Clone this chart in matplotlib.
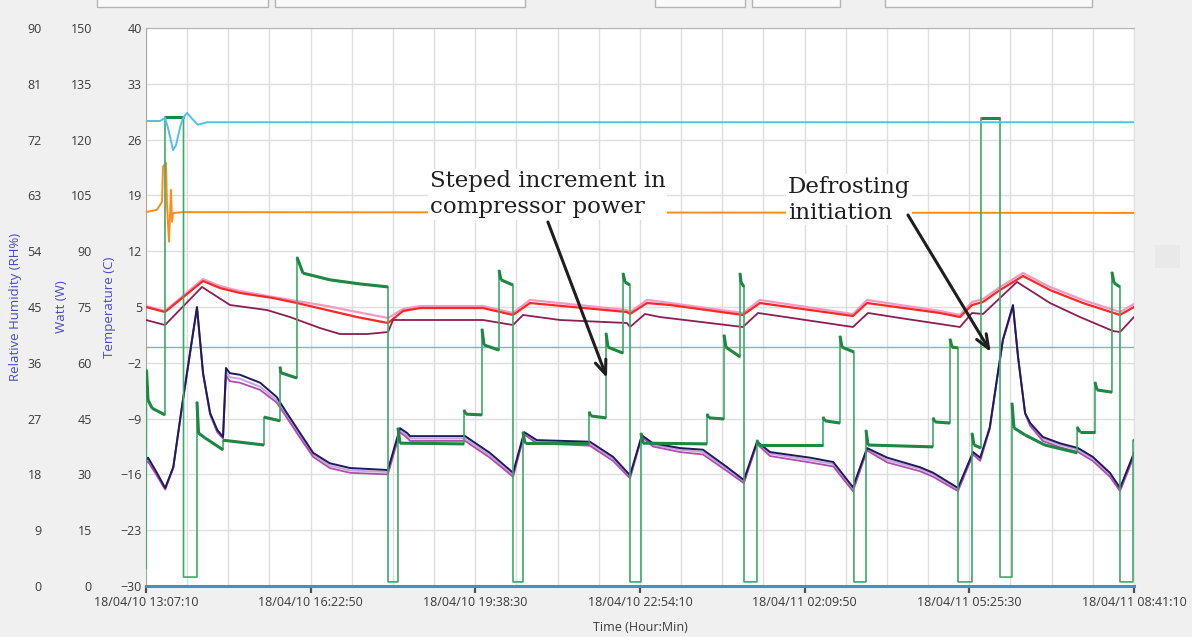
import matplotlib
matplotlib.use("Agg")
import matplotlib.pyplot as plt
import matplotlib.dates as mdates
from matplotlib.ticker import FixedLocator
from matplotlib.collections import LineCollection
from matplotlib.patches import Rectangle
from datetime import datetime, timedelta

plt.rcParams['font.family'] = ['Open Sans', 'DejaVu Sans']

# ---------------- time axis ----------------
START = datetime(2018, 4, 10, 13, 7, 10)
END = datetime(2018, 4, 11, 8, 41, 10)
MAJOR_STEP_S = 11740      # 3:15:40 between labelled ticks
MINOR_STEP_S = 2935       # grid every quarter of that

# ---------------- axis ticks ----------------
temp_ticks = [-30, -23, -16, -9, -2, 5, 12, 19, 26, 33, 40]
watt_ticks = [0, 15, 30, 45, 60, 75, 90, 105, 120, 135, 150]
rh_ticks = [0, 9, 18, 27, 36, 45, 54, 63, 72, 81, 90]

# ---------------- series (time in hours from start) ----------------
# compressor / heater power (W)
pw_t = [0.00, 0.01, 0.04, 0.12, 0.376, 0.376, 0.743, 0.743, 1.01, 1.01,
        1.04, 1.17, 1.525, 1.525, 2.337, 2.337, 2.654, 2.654, 2.674, 2.99,
        2.99, 3.109, 3.644, 4.238, 4.793, 4.793, 4.99, 4.99, 5.03, 6.298,
        6.298, 6.337, 6.654, 6.654, 6.694, 6.991, 6.991, 7.03, 7.268, 7.268,
        7.466, 7.466, 7.506, 8.773, 8.773, 8.813, 9.11, 9.11, 9.15, 9.447,
        9.447, 9.486, 9.585, 9.585, 9.803, 9.803, 9.843, 11.11, 11.11, 11.15,
        11.447, 11.447, 11.486, 11.764, 11.764, 11.783, 11.843, 11.843, 12.10, 12.10,
        12.14, 13.407, 13.407, 13.447, 13.744, 13.744, 13.784, 14.02, 14.02, 14.259,
        14.259, 14.299, 15.586, 15.586, 15.626, 15.923, 15.923, 15.962, 16.081, 16.081,
        16.358, 16.358, 16.398, 16.536, 16.536, 16.913, 16.913, 17.15, 17.15, 17.19,
        17.41, 17.80, 18.44, 18.44, 18.497, 18.794, 18.794, 18.834, 19.13, 19.13,
        19.17, 19.289, 19.289, 19.547, 19.547, 19.567]
pw_w = [4.8, 58.1, 50.0, 47.8, 46.0, 126.1, 126.1, 2.4, 2.4, 49.5,
        41.1, 39.8, 36.6, 39.2, 37.9, 45.4, 44.4, 58.9, 57.3, 55.9,
        88.4, 84.1, 82.3, 81.2, 80.4, 1.1, 1.1, 42.5, 38.4, 38.2,
        47.3, 46.2, 46.0, 69.1, 64.8, 63.4, 84.9, 82.3, 80.9, 1.1,
        1.1, 41.4, 38.4, 38.4, 46.8, 45.7, 45.2, 68.0, 64.2, 62.6,
        84.1, 81.7, 80.9, 1.1, 1.1, 41.1, 38.4, 38.2, 46.2, 45.2,
        44.9, 67.5, 64.2, 61.6, 84.1, 81.7, 80.4, 1.1, 1.1, 39.2,
        37.9, 37.9, 45.4, 44.4, 43.8, 67.2, 64.2, 62.9, 1.1, 1.1,
        41.9, 37.9, 37.4, 45.2, 44.1, 43.8, 66.4, 64.2, 64.0, 1.1,
        1.1, 41.1, 37.9, 37.1, 125.8, 125.8, 2.4, 2.4, 49.2, 42.5,
        40.6, 37.9, 35.8, 42.7, 41.4, 41.4, 54.8, 52.7, 52.1, 84.4,
        81.5, 80.4, 1.1, 1.1, 39.2, 39.2]

# cabinet air temperatures (C)
cab_t = [0.0, 0.376, 1.129, 1.465, 1.862, 2.515, 2.99, 3.584, 4.179, 4.793,
         5.09, 5.426, 6.674, 7.268, 7.605, 9.526, 9.585, 9.922, 10.38, 11.822,
         12.159, 14.001, 14.279, 15.724, 16.12, 16.358, 16.576, 16.913, 17.368, 17.903,
         18.556, 19.289, 19.567]
cab_red = [5.00, 4.37, 8.26, 7.38, 6.76, 6.13, 5.50, 4.62, 3.74, 2.99,
           4.50, 4.87, 4.87, 4.00, 5.50, 4.37, 4.12, 5.50, 5.25, 4.00,
           5.50, 3.87, 5.50, 4.25, 3.74, 5.25, 5.63, 7.13, 8.89, 7.13,
           5.50, 4.00, 5.00]
cab_pink = [5.12, 4.50, 8.51, 7.63, 7.00, 6.26, 5.75, 5.12, 4.37, 3.62,
            4.75, 5.12, 5.12, 4.25, 5.88, 4.62, 4.37, 5.88, 5.50, 4.25,
            5.88, 4.12, 5.88, 4.50, 4.00, 5.63, 6.00, 7.51, 9.26, 7.51,
            5.88, 4.37, 5.38]

mar_t = [0.0, 0.376, 1.109, 1.664, 2.396, 2.852, 3.446, 3.842, 4.377, 4.793,
         4.892, 5.426, 6.674, 7.268, 7.466, 8.199, 9.526, 9.585, 9.882, 10.179,
         11.822, 12.12, 14.001, 14.298, 14.932, 16.12, 16.358, 16.576, 17.249, 17.903,
         18.497, 19.15, 19.289, 19.567]
mar_v = [3.37, 2.74, 7.51, 5.25, 4.62, 3.74, 2.36, 1.61, 1.61, 1.86,
         3.37, 3.37, 3.37, 2.74, 4.00, 3.37, 2.99, 2.49, 4.12, 3.74,
         2.49, 4.25, 2.49, 4.25, 3.62, 2.49, 4.25, 4.12, 8.14, 5.50,
         3.74, 1.99, 1.86, 3.74]

# evaporator temperatures (C)
evap_t = [0.00, 0.04, 0.18, 0.38, 0.54, 0.73, 0.93, 1.01, 1.13, 1.27,
          1.41, 1.525, 1.584, 1.66, 1.86, 2.26, 2.59, 2.79, 3.05, 3.31,
          3.64, 4.04, 4.79, 5.03, 5.17, 5.23, 6.32, 6.81, 7.27, 7.49,
          7.74, 8.79, 9.25, 9.585, 9.82, 10.04, 10.58, 11.03, 11.51, 11.84,
          12.10, 12.36, 13.15, 13.61, 14.00, 14.28, 14.68, 15.33, 15.59, 16.08,
          16.38, 16.52, 16.71, 16.87, 16.97, 17.17, 17.27, 17.41, 17.51, 17.76,
          18.10, 18.46, 18.75, 19.09, 19.29, 19.567]
evap_navy = [-14.2, -13.9, -15.4, -17.7, -15.1, -6.7, 1.7, 5.0, -3.3, -8.3,
             -10.4, -11.3, -2.65, -3.3, -3.5, -4.5, -6.3, -8.3, -10.8, -13.3,
             -14.6, -15.2, -15.45, -10.2, -10.8, -11.2, -11.2, -13.3, -15.8, -10.7,
             -11.7, -11.9, -13.8, -16.1, -11.1, -12.1, -12.7, -12.9, -15.1, -16.7,
             -11.9, -13.2, -13.9, -14.45, -17.6, -12.7, -13.9, -15.1, -15.8, -17.7,
             -13.2, -13.9, -10.1, -3.3, 0.9, 5.25, -1.3, -8.3, -9.55, -11.3,
             -12.1, -12.7, -13.8, -15.8, -17.7, -13.3]
evap_violet = [-14.6, -14.4, -15.8, -17.9, -15.2, -6.8, 1.6, 4.8, -3.4, -8.5,
               -10.7, -11.5, -3.6, -4.3, -4.5, -5.4, -7.0, -8.9, -11.4, -13.8,
               -15.2, -15.8, -16.0, -10.7, -11.4, -11.8, -11.8, -13.9, -16.3, -11.0,
               -12.1, -12.4, -14.3, -16.5, -11.3, -12.5, -13.2, -13.5, -15.6, -17.1,
               -12.2, -13.7, -14.5, -15.0, -18.1, -13.0, -14.5, -15.6, -16.3, -18.1,
               -13.5, -14.3, -10.3, -3.4, 0.8, 5.0, -1.2, -8.4, -9.9, -11.8,
               -12.6, -13.2, -14.3, -16.3, -18.1, -13.7]
evap_lilac = [-14.4, -14.2, -15.6, -17.8, -15.1, -6.7, 1.7, 4.9, -3.3, -8.4,
              -10.5, -11.4, -3.1, -3.8, -4.0, -5.0, -6.7, -8.6, -11.1, -13.5,
              -14.9, -15.5, -15.7, -10.4, -11.1, -11.5, -11.5, -13.6, -16.1, -10.8,
              -11.9, -12.2, -14.0, -16.3, -11.2, -12.3, -12.9, -13.2, -15.3, -16.9,
              -12.0, -13.4, -14.2, -14.7, -17.8, -12.8, -14.2, -15.3, -16.0, -17.9,
              -13.3, -14.1, -10.2, -3.3, 0.9, 5.1, -1.2, -8.3, -9.7, -11.5,
              -12.3, -12.9, -14.0, -16.0, -17.9, -13.5]

# relative humidity (%)
rh_t = [0.00, 0.277, 0.376, 0.435, 0.515, 0.535, 0.594, 0.673, 0.733, 0.812,
        0.931, 1.03, 1.21, 19.567]
rh_v = [75.0, 75.0, 75.5, 73.9, 71.1, 70.3, 71.1, 73.9, 75.5, 76.3,
        75.2, 74.4, 74.8, 74.8]

# ambient temperature (C)
amb_t = [0.00, 0.218, 0.317, 0.337, 0.396, 0.416, 0.455, 0.495, 0.515, 0.535,
         0.733, 19.567]
amb_v = [16.9, 17.2, 18.2, 22.6, 23.1, 17.8, 13.2, 19.7, 15.7, 16.8,
         16.9, 16.8]

# set point line (C)
ref_t = [0.0, 19.567]
ref_v = [0.0, 0.0]


def tnum(hours):
    return mdates.date2num([START + timedelta(hours=h) for h in hours])


W, H = 1192, 637
fig = plt.figure(figsize=(W / 100, H / 100), dpi=100, facecolor='#F0F0F0')

# window-chrome remnants at the top / right
for x0, x1 in [(97, 268), (275, 525), (655, 745), (752, 840), (885, 1092)]:
    fig.add_artist(Rectangle((x0 / W, 1 - 7 / H), (x1 - x0) / W, 12 / H,
                             transform=fig.transFigure, facecolor='#FAFAFA',
                             edgecolor='#B4B4B4', lw=1.0))
fig.add_artist(Rectangle((1155 / W, 1 - 268 / H), 25 / W, 23 / H,
                         transform=fig.transFigure, facecolor='#E9E9E9',
                         edgecolor='none'))

ax = fig.add_axes([146 / W, 1 - 586 / H, 988 / W, 558 / H])
ax.set_facecolor('white')
ax_w = ax.twinx()
ax_rh = ax.twinx()

# ---- x axis ----
t0 = mdates.date2num(START)
t1 = mdates.date2num(END)
n_major = int(round((END - START).total_seconds() / MAJOR_STEP_S))
n_minor = n_major * 4
major = mdates.date2num([START + timedelta(seconds=MAJOR_STEP_S * k) for k in range(n_major + 1)])
minor = mdates.date2num([START + timedelta(seconds=MINOR_STEP_S * k) for k in range(n_minor + 1)])
ax.set_xlim(t0, t1)
ax.xaxis.set_major_locator(FixedLocator(major))
ax.xaxis.set_minor_locator(FixedLocator(minor))
ax.xaxis.set_major_formatter(mdates.DateFormatter('%y/%m/%d %H:%M:%S'))
ax.tick_params(axis='x', which='major', length=5, width=1.6, color='#505050',
               labelsize=9, labelcolor='#3A3A3A', pad=2.5)
ax.tick_params(axis='x', which='minor', length=0)
ax.set_xlabel('Time (Hour:Min)', fontsize=9, color='#3A3A3A')
ax.xaxis.set_label_coords(0.5, -0.062)

# ---- y axes ----
ax.set_ylim(-30, 40)
ax.set_yticks(temp_ticks)
ax_w.set_ylim(0, 150)
ax_w.set_yticks(watt_ticks)
ax_rh.set_ylim(0, 90)
ax_rh.set_yticks(rh_ticks)

lab_col = '#4A4ABA'
ax.tick_params(axis='y', length=0, pad=3, labelsize=9, labelcolor='#3A3A3A')
ax.set_ylabel('Temperature (C)', fontsize=9.5, color=lab_col)
ax.yaxis.set_label_coords(-0.030, 0.5)
for a, off, lab, lx in ((ax_w, 36, 'Watt (W)', -0.079), (ax_rh, 72, 'Relative Humidity (RH%)', -0.125)):
    a.yaxis.tick_left()
    a.yaxis.set_label_position('left')
    a.spines['left'].set_position(('outward', off))
    for s in a.spines.values():
        s.set_visible(False)
    a.tick_params(axis='y', length=0, pad=3, labelsize=9, labelcolor='#3A3A3A')
    a.set_ylabel(lab, fontsize=9.5, color=lab_col)
    a.yaxis.set_label_coords(lx, 0.5)

ax.spines['left'].set_color('#A8A8A8')
ax.spines['top'].set_color('#B4B4B4')
ax.spines['right'].set_color('#E2E2E2')
ax.spines['bottom'].set_visible(False)

ax.set_axisbelow(True)
ax.grid(True, axis='y', color='#DEDEDE', lw=1.0)
ax.grid(True, axis='x', which='both', color='#DEDEDE', lw=1.0)

# ---- temperature series ----
ax.plot(tnum(ref_t), ref_v, color='#8EA6E6', lw=1.0, zorder=2)
ax.plot(tnum(amb_t), amb_v, color='#FF8C1A', lw=1.4, zorder=3)
ax.plot(tnum(cab_t), cab_pink, color='#F39AC4', lw=1.6, zorder=3)
ax.plot(tnum(cab_t), cab_red, color='#FF2626', lw=1.6, zorder=4)
ax.plot(tnum(mar_t), mar_v, color='#8C1E52', lw=1.3, zorder=4)
ax.plot(tnum(evap_t), evap_lilac, color='#C8A2DA', lw=1.4, zorder=3)
ax.plot(tnum(evap_t), evap_violet, color='#B04CB0', lw=1.3, zorder=3)
ax.plot(tnum(evap_t), evap_navy, color='#1C1C5C', lw=1.4, zorder=4)

# ---- power series ----
ptn = tnum(pw_t)
ax_w.plot(ptn, pw_w, color='#3DAA68', lw=1.2, zorder=3)
segs = [[(ptn[i], pw_w[i]), (ptn[i + 1], pw_w[i + 1])]
        for i in range(len(pw_t) - 1)
        if ptn[i + 1] > ptn[i] and pw_w[i] > 20 and pw_w[i + 1] > 20]
ax_w.add_collection(LineCollection(segs, colors='#1E8744', linewidths=2.2,
                                   capstyle='butt', zorder=4))

# ---- RH series + zero base line ----
ax_rh.plot(tnum(rh_t), rh_v, color='#52C0EE', lw=1.4, zorder=3)
ax_rh.plot(tnum(ref_t), [0, 0], color='#3D93C8', lw=2.2, zorder=5, clip_on=False)

# ---- annotations ----
def tp(h, v):
    return (mdates.date2num(START + timedelta(hours=h)), v)

txt_kw = dict(transform=ax.transData, fontsize=16.5, family='DejaVu Serif',
              color='#1E1E1E', va='top', ha='left', linespacing=1.25, zorder=10,
              bbox=dict(facecolor='white', edgecolor='none', pad=1.0))
ax_rh.text(*tp(5.62, 22.2), 'Steped increment in\ncompressor power', **txt_kw)
ax_rh.text(*tp(12.71, 21.45), 'Defrosting\ninitiation', **txt_kw)

arr = dict(arrowstyle='->,head_length=1.0,head_width=0.4', color='#1E1E1E',
           lw=2.2, shrinkA=0, shrinkB=0)
ax_rh.annotate('', xy=tp(9.13, -3.91), xycoords=ax.transData,
               xytext=tp(7.96, 15.66), textcoords=ax.transData,
               arrowprops=arr, zorder=11)
ax_rh.annotate('', xy=tp(16.73, -0.65), xycoords=ax.transData,
               xytext=tp(15.09, 16.54), textcoords=ax.transData,
               arrowprops=arr, zorder=11)

fig.savefig('out.png', dpi=100, facecolor=fig.get_facecolor())
